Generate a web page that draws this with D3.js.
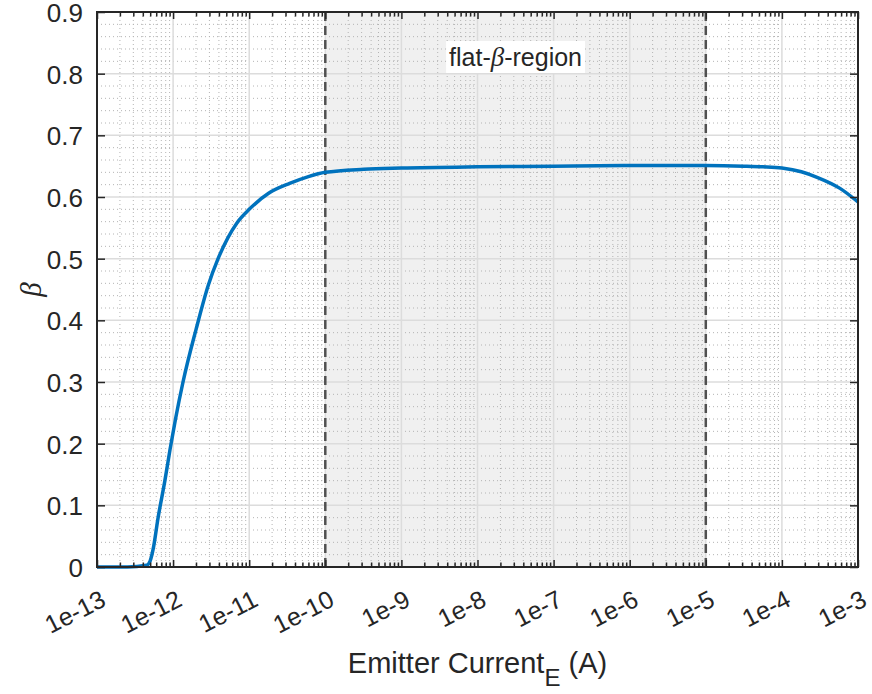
<!DOCTYPE html>
<html><head><meta charset="utf-8">
<script src="https://cdn.jsdelivr.net/npm/d3@7"></script>
<style>
body{margin:0;background:#fff}
svg text{font-family:"Liberation Sans",Arial,Helvetica,sans-serif;fill:#262626}
</style>
</head><body>
<svg id="chart" width="872" height="694"></svg>
<script>
// ---- data ----
const emitterCurrent = [1e-13, 2.5e-13, 4.5e-13, 5e-13, 5.45e-13, 6.35e-13, 7.8e-13, 9.1e-13, 1.076e-12, 1.35e-12,
  2.0e-12, 2.9e-12, 3.9e-12, 6.9e-12, 1e-11, 1.8e-11, 3.4e-11, 6e-11, 1e-10, 3.2e-10,
  1e-9, 1e-8, 1e-7, 1e-6, 1e-5, 3.2e-5, 5.6e-5, 1e-4, 1.8e-4, 2.9e-4, 5.8e-4, 1e-3];
const betaValues = [0, 0, 0.003, 0.01, 0.028, 0.08, 0.14, 0.19, 0.24, 0.30,
  0.385, 0.457, 0.50, 0.558, 0.58, 0.606, 0.622, 0.633, 0.640, 0.645,
  0.647, 0.649, 0.650, 0.651, 0.651, 0.650, 0.649, 0.647, 0.641, 0.632, 0.614, 0.592];
const xTickValues = [1e-13, 1e-12, 1e-11, 1e-10, 1e-9, 1e-8, 1e-7, 1e-6, 1e-5, 1e-4, 1e-3];
const xTickLabels = ["1e-13","1e-12","1e-11","1e-10","1e-9","1e-8","1e-7","1e-6","1e-5","1e-4","1e-3"];
const yTickValues = [0, 0.1, 0.2, 0.3, 0.4, 0.5, 0.6, 0.7, 0.8, 0.9];
const yTickLabels = ["0","0.1","0.2","0.3","0.4","0.5","0.6","0.7","0.8","0.9"];
const flatRegion = [1e-10, 1e-5];
const annotationY = 0.827;
const xLabelMain = "Emitter Current";
const xLabelSub = "E";
const xLabelTail = " (A)";
const yLabel = "β";

// ---- layout ----
const L = 97, R = 858, T = 12, B = 567;
const serif = "'Liberation Serif','DejaVu Serif',serif";
const svg = d3.select("#chart");
const x = d3.scaleLog().domain([1e-13, 1e-3]).range([L, R]);
const y = d3.scaleLinear().domain([0, 0.9]).range([B, T]);

const minorX = [];
for (let e = -13; e < -3; e++) for (let k = 2; k <= 9; k++) minorX.push(k * Math.pow(10, e));
const minorY = d3.range(0, 46).map(i => i * 0.02).filter(v => Math.round(v * 100) % 10 !== 0 && v < 0.9);

// shaded region
svg.append("rect")
  .attr("x", x(flatRegion[0])).attr("y", T)
  .attr("width", x(flatRegion[1]) - x(flatRegion[0])).attr("height", B - T)
  .attr("fill", "#f0f0f0");

// minor grid
const gMinor = svg.append("g").attr("stroke", "#b4b4b4").attr("stroke-width", 1).attr("stroke-dasharray", "1,3");
gMinor.selectAll("line.mx").data(minorX).join("line")
  .attr("x1", d => x(d)).attr("x2", d => x(d)).attr("y1", T).attr("y2", B);
gMinor.selectAll("line.my").data(minorY).join("line").attr("class","my")
  .attr("x1", L).attr("x2", R).attr("y1", d => y(d)).attr("y2", d => y(d));

// major grid
const gMajor = svg.append("g").attr("stroke", "#dcdcdc").attr("stroke-width", 1.5);
gMajor.selectAll("line.gx").data(xTickValues).join("line").attr("class","gx")
  .attr("x1", d => x(d)).attr("x2", d => x(d)).attr("y1", T).attr("y2", B);
gMajor.selectAll("line.gy").data(yTickValues).join("line").attr("class","gy")
  .attr("x1", L).attr("x2", R).attr("y1", d => y(d)).attr("y2", d => y(d));

// dashed boundaries
svg.selectAll("line.bound").data(flatRegion).join("line").attr("class","bound")
  .attr("x1", d => x(d)).attr("x2", d => x(d)).attr("y1", T).attr("y2", B)
  .attr("stroke", "#505050").attr("stroke-width", 2.5).attr("stroke-dasharray", "9,5");

// curve
const line = d3.line().x((d, i) => x(emitterCurrent[i])).y(d => y(d)).curve(d3.curveMonotoneX);
svg.append("path").datum(betaValues).attr("d", line)
  .attr("fill", "none").attr("stroke", "#0072BD").attr("stroke-width", 3.5).attr("stroke-linejoin","round");

// annotation
const ann = svg.append("g");
const annText = ann.append("text")
  .attr("x", x(Math.sqrt(flatRegion[0] * flatRegion[1]))).attr("y", y(annotationY))
  .attr("text-anchor", "middle").attr("dominant-baseline", "central")
  .style("font-size", "25px");
annText.append("tspan").text("flat-");
annText.append("tspan").text("β").style("font-family", serif).style("font-style", "italic").style("font-size", "27px");
annText.append("tspan").text("-region");
const bb = annText.node().getBBox();
ann.insert("rect", "text").attr("x", bb.x - 3).attr("y", bb.y - 1).attr("width", bb.width + 6).attr("height", bb.height + 2).attr("fill", "#fff");

// axes (ticks inward)
function styleAxis(g) {
  g.select(".domain").remove();
  g.selectAll(".tick line").attr("stroke", "#262626").attr("stroke-width", 1.5);
  g.attr("font-size", null).attr("font-family", null);
}
const xBottom = svg.append("g").attr("transform", `translate(0,${B})`)
  .call(d3.axisBottom(x).tickValues(xTickValues).tickSize(-7).tickFormat((d, i) => xTickLabels[i])).call(styleAxis);
xBottom.selectAll(".tick text")
  .attr("y", null).attr("dy", null).attr("x", null)
  .attr("text-anchor", "end").attr("transform", "translate(10,38) rotate(-27)")
  .style("font-size", "25px");
svg.append("g").attr("transform", `translate(0,${B})`)
  .call(d3.axisBottom(x).tickValues(minorX).tickSize(-4.5).tickFormat("")).call(styleAxis);
svg.append("g").attr("transform", `translate(0,${T})`)
  .call(d3.axisTop(x).tickValues(xTickValues).tickSize(-7).tickFormat("")).call(styleAxis);
svg.append("g").attr("transform", `translate(0,${T})`)
  .call(d3.axisTop(x).tickValues(minorX).tickSize(-4.5).tickFormat("")).call(styleAxis);
const yLeft = svg.append("g").attr("transform", `translate(${L},0)`)
  .call(d3.axisLeft(y).tickValues(yTickValues).tickSize(-8).tickPadding(14).tickFormat((d, i) => yTickLabels[i])).call(styleAxis);
yLeft.selectAll(".tick text").style("font-size", "26px").attr("dy", "0.36em");
svg.append("g").attr("transform", `translate(${R},0)`)
  .call(d3.axisRight(y).tickValues(yTickValues).tickSize(-8).tickFormat("")).call(styleAxis);

// box
svg.append("rect").attr("x", L).attr("y", T).attr("width", R - L).attr("height", B - T)
  .attr("fill", "none").attr("stroke", "#262626").attr("stroke-width", 2);

// labels
const xl = svg.append("text").attr("x", (L + R) / 2).attr("y", 673).attr("text-anchor", "middle").style("font-size", "29px");
xl.append("tspan").text(xLabelMain);
xl.append("tspan").text(xLabelSub).attr("dy", 13).style("font-size", "24px");
xl.append("tspan").text(xLabelTail).attr("dy", -13);
svg.append("text").attr("transform", `translate(41,${(T + B) / 2}) rotate(-90)`)
  .attr("text-anchor", "middle")
  .style("font-family", serif).style("font-style", "italic").style("font-size", "29px")
  .text(yLabel);
</script>
</body></html>
